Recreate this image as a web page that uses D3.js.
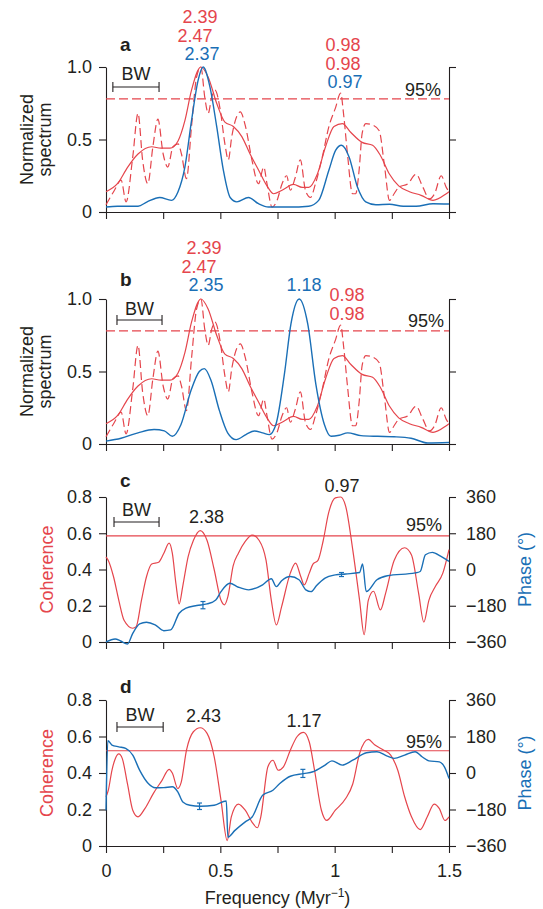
<!DOCTYPE html>
<html>
<head>
<meta charset="utf-8">
<script src="https://cdn.jsdelivr.net/npm/d3@7"></script>
<style>
  body { margin: 0; background: #fff; }
  svg { display: block; font-family: "Liberation Sans", Arial, sans-serif; }
</style>
</head>
<body>
<svg id="chart" width="543" height="909"></svg>
<script>
// frequency axis (Myr^-1)
const freqTicks = [0, 0.25, 0.5, 0.75, 1, 1.25, 1.5]
const freqTickLabels = ['0', '', '0.5', '', '1', '', '1.5']

const specTicks = [0, 0.5, 1]
const specTickLabels = ['0', '0.5', '1.0']
const cohTicks = [0, 0.2, 0.4, 0.6, 0.8]
const cohTickLabels = ['0', '0.2', '0.4', '0.6', '0.8']
const phaseTicks = [-360, -180, 0, 180, 360]
const phaseTickLabels = ['\u2212360', '\u2212180', '0', '180', '360']

// 95% significance levels, panels a..d
const sigLevels = [0.78, 0.78, 0.586, 0.522]

// normalized spectra [freq, value] (red curves are the same in a and b)
const specRedSmooth = [[0,0.14],[0.05,0.195],[0.095,0.31],[0.14,0.40],[0.2,0.45],[0.24,0.44],[0.28,0.44],[0.315,0.49],[0.345,0.63],[0.374,0.84],[0.415,1.0],[0.447,0.93],[0.484,0.75],[0.52,0.62],[0.557,0.59],[0.594,0.52],[0.63,0.40],[0.667,0.29],[0.704,0.18],[0.733,0.126],[0.77,0.15],[0.82,0.19],[0.858,0.17],[0.887,0.17],[0.924,0.26],[0.96,0.45],[0.997,0.59],[1.034,0.61],[1.07,0.55],[1.12,0.48],[1.166,0.46],[1.2,0.39],[1.24,0.26],[1.28,0.18],[1.327,0.14],[1.378,0.115],[1.43,0.08],[1.488,0.126],[1.5,0.14]]

const specRedDashed = [[0,0.05],[0.037,0.15],[0.066,0.22],[0.088,0.07],[0.117,0.38],[0.14,0.68],[0.16,0.36],[0.183,0.195],[0.205,0.45],[0.227,0.64],[0.25,0.40],[0.27,0.31],[0.293,0.45],[0.315,0.47],[0.33,0.40],[0.352,0.23],[0.374,0.59],[0.396,0.93],[0.415,1.0],[0.432,0.79],[0.447,0.68],[0.462,0.79],[0.477,0.84],[0.5,0.70],[0.52,0.47],[0.535,0.36],[0.55,0.52],[0.572,0.66],[0.587,0.69],[0.61,0.59],[0.638,0.36],[0.667,0.195],[0.69,0.31],[0.704,0.195],[0.726,0.034],[0.748,0.08],[0.77,0.195],[0.79,0.25],[0.806,0.15],[0.828,0.24],[0.85,0.36],[0.872,0.15],[0.894,0.10],[0.916,0.195],[0.946,0.38],[0.975,0.59],[1.004,0.72],[1.026,0.82],[1.04,0.66],[1.056,0.40],[1.078,0.126],[1.092,0.126],[1.107,0.29],[1.12,0.54],[1.136,0.61],[1.166,0.60],[1.195,0.56],[1.217,0.33],[1.24,0.08],[1.26,0.126],[1.28,0.17],[1.32,0.195],[1.356,0.26],[1.386,0.17],[1.415,0.09],[1.437,0.126],[1.466,0.25],[1.488,0.17],[1.5,0.14]]

const specBlueA = [[0,0.034],[0.05,0.04],[0.14,0.04],[0.18,0.07],[0.235,0.10],[0.286,0.08],[0.315,0.14],[0.345,0.31],[0.374,0.63],[0.403,0.91],[0.425,1.0],[0.455,0.86],[0.484,0.59],[0.513,0.29],[0.543,0.10],[0.572,0.07],[0.623,0.10],[0.667,0.057],[0.711,0.034],[0.8,0.034],[0.887,0.04],[0.93,0.08],[0.975,0.29],[1.004,0.425],[1.03,0.46],[1.063,0.38],[1.1,0.17],[1.136,0.07],[1.18,0.05],[1.24,0.053],[1.3,0.04],[1.356,0.04],[1.43,0.057],[1.5,0.055]]

const specBlueB = [[0,0.02],[0.066,0.04],[0.14,0.077],[0.21,0.10],[0.255,0.09],[0.29,0.053],[0.328,0.135],[0.372,0.37],[0.408,0.50],[0.43,0.52],[0.459,0.44],[0.496,0.23],[0.532,0.077],[0.569,0.03],[0.612,0.065],[0.649,0.09],[0.685,0.077],[0.714,0.065],[0.743,0.135],[0.78,0.48],[0.809,0.83],[0.845,1.0],[0.882,0.83],[0.918,0.41],[0.955,0.135],[0.984,0.053],[1.02,0.06],[1.057,0.077],[1.115,0.058],[1.188,0.053],[1.26,0.05],[1.334,0.04],[1.407,0.007],[1.5,0.01]]

// coherence and phase [freq, value]
const cohC = [[0,0.47],[0.01,0.45],[0.033,0.36],[0.056,0.23],[0.079,0.12],[0.117,0.076],[0.132,0.085],[0.155,0.23],[0.177,0.36],[0.2,0.43],[0.23,0.44],[0.253,0.49],[0.276,0.545],[0.29,0.49],[0.306,0.32],[0.32,0.21],[0.336,0.31],[0.359,0.47],[0.382,0.56],[0.412,0.615],[0.442,0.56],[0.473,0.40],[0.503,0.23],[0.518,0.205],[0.533,0.25],[0.556,0.42],[0.579,0.49],[0.609,0.555],[0.639,0.59],[0.67,0.56],[0.7,0.45],[0.723,0.23],[0.745,0.094],[0.768,0.195],[0.806,0.38],[0.829,0.435],[0.852,0.36],[0.867,0.315],[0.889,0.38],[0.905,0.43],[0.927,0.45],[0.95,0.56],[0.973,0.71],[1.003,0.795],[1.026,0.80],[1.048,0.75],[1.079,0.51],[1.109,0.23],[1.129,0.04],[1.147,0.23],[1.17,0.28],[1.2,0.177],[1.223,0.27],[1.26,0.45],[1.306,0.52],[1.336,0.48],[1.367,0.27],[1.39,0.11],[1.412,0.23],[1.442,0.31],[1.473,0.38],[1.5,0.51]]

const phaseC = [[0,-360],[0.04,-345],[0.064,-355],[0.094,-370],[0.117,-317],[0.147,-270],[0.177,-262],[0.215,-275],[0.253,-304],[0.283,-300],[0.32,-217],[0.35,-192],[0.397,-179],[0.442,-171],[0.48,-151],[0.503,-110],[0.541,-68],[0.579,-88],[0.624,-101],[0.685,-76],[0.723,-46],[0.745,-85],[0.768,-56],[0.806,-35],[0.844,-51],[0.874,-101],[0.897,-110],[0.92,-81],[0.958,-43],[1.003,-27],[1.048,-22],[1.109,-15],[1.122,28],[1.138,-110],[1.185,-51],[1.23,-31],[1.352,-17],[1.374,-10],[1.397,73],[1.427,85],[1.465,65],[1.5,40]]

const cohD = [[0,0.27],[0.01,0.305],[0.026,0.415],[0.041,0.48],[0.056,0.505],[0.071,0.48],[0.094,0.34],[0.117,0.196],[0.14,0.16],[0.17,0.205],[0.208,0.29],[0.245,0.36],[0.276,0.42],[0.29,0.40],[0.314,0.315],[0.329,0.35],[0.352,0.525],[0.382,0.626],[0.412,0.648],[0.442,0.617],[0.473,0.49],[0.503,0.25],[0.53,0.03],[0.548,0.16],[0.579,0.23],[0.609,0.196],[0.639,0.13],[0.662,0.10],[0.677,0.16],[0.708,0.434],[0.73,0.47],[0.753,0.415],[0.776,0.434],[0.806,0.525],[0.836,0.60],[0.864,0.623],[0.889,0.57],[0.912,0.415],[0.942,0.196],[0.965,0.14],[1.003,0.196],[1.048,0.26],[1.079,0.34],[1.109,0.507],[1.147,0.584],[1.176,0.553],[1.215,0.525],[1.245,0.498],[1.276,0.415],[1.306,0.27],[1.336,0.16],[1.374,0.09],[1.405,0.16],[1.435,0.23],[1.458,0.205],[1.482,0.14],[1.5,0.16]]

const phaseD = [[0,-184],[0.008,159],[0.026,138],[0.056,129],[0.086,121],[0.117,88],[0.147,14],[0.185,-52],[0.215,-73],[0.253,-72],[0.29,-68],[0.314,-93],[0.336,-143],[0.367,-159],[0.412,-164],[0.473,-159],[0.526,-138],[0.533,-316],[0.564,-283],[0.609,-241],[0.639,-217],[0.685,-110],[0.73,-85],[0.76,-52],[0.806,-16],[0.864,-3],[0.905,6],[0.958,39],[0.988,60],[1.033,39],[1.079,63],[1.139,100],[1.185,105],[1.23,83],[1.26,72],[1.306,88],[1.352,105],[1.382,80],[1.412,60],[1.458,55],[1.48,30],[1.5,-27]]

// phase error bars [freq, phase, half-width]
const phaseErrC = [[0.424, -177, 18], [1.03, -25, 10]]
const phaseErrD = [[0.409, -164, 16], [0.861, -2, 20]]

const RED = '#e5454c'
const BLUE = '#1a6fb6'
const INK = '#231f20'

const svg = d3.select('#chart')
const x = d3.scaleLinear().domain([0, 1.5]).range([106, 449])

const panels = [
  { key: 'a', top: 67, bottom: 212, kind: 'spec', blue: specBlueA, sig: sigLevels[0],
    letterY: 51, bw: [0.03, 0.232], bwY: 87, bwTextY: 80, sigTextY: 96, sigTextX: 441,
    labels: [['2.39', 0.411, 23, RED], ['2.47', 0.389, 42, RED], ['2.37', 0.42, 60, BLUE],
             ['0.98', 1.036, 51, RED], ['0.98', 1.036, 70, RED], ['0.97', 1.045, 88, BLUE]] },
  { key: 'b', top: 299, bottom: 444, kind: 'spec', blue: specBlueB, sig: sigLevels[1],
    letterY: 286, bw: [0.048, 0.245], bwY: 320, bwTextY: 315, sigTextY: 327, sigTextX: 444,
    labels: [['2.39', 0.429, 254, RED], ['2.47', 0.407, 273, RED], ['2.35', 0.437, 291, BLUE],
             ['1.18', 0.866, 291, BLUE], ['0.98', 1.054, 301, RED], ['0.98', 1.054, 320, RED]] },
  { key: 'c', top: 497, bottom: 642, kind: 'coh', coh: cohC, phase: phaseC, err: phaseErrC, sig: sigLevels[2],
    letterY: 487, bw: [0.035, 0.232], bwY: 522, bwTextY: 516, sigTextY: 531, sigTextX: 442,
    labels: [['2.38', 0.44, 523, INK], ['0.97', 1.032, 492, INK]] },
  { key: 'd', top: 700, bottom: 846, kind: 'coh', coh: cohD, phase: phaseD, err: phaseErrD, sig: sigLevels[3],
    letterY: 693, bw: [0.048, 0.25], bwY: 727, bwTextY: 721, sigTextY: 748, sigTextX: 442,
    labels: [['2.43', 0.426, 722, INK], ['1.17', 0.866, 727, INK]] }
]

function styleAxis(g) {
  g.attr('font-size', 18).attr('font-family', null).attr('color', INK)
  g.selectAll('path, line').attr('stroke-width', 1.1)
  g.selectAll('text').attr('fill', INK)
}

panels.forEach((p, i) => {
  const g = svg.append('g')
  const last = i === panels.length - 1

  let yL, yR
  if (p.kind === 'spec') {
    yL = d3.scaleLinear().domain([0, 1]).range([p.bottom, p.top])
    yR = yL
  } else {
    yL = d3.scaleLinear().domain([0, 0.8]).range([p.bottom, p.top])
    yR = d3.scaleLinear().domain([-360, 360]).range([p.bottom, p.top])
  }

  // axes
  const lt = p.kind === 'spec' ? specTicks : cohTicks
  const ll = p.kind === 'spec' ? specTickLabels : cohTickLabels
  g.append('g')
    .attr('transform', `translate(${x(0)},0)`)
    .call(d3.axisLeft(yL).tickValues(lt).tickFormat((d, k) => ll[k]).tickSize(7).tickSizeOuter(0).tickPadding(7))
    .call(styleAxis)

  if (p.kind === 'spec') {
    g.append('g')
      .attr('transform', `translate(${x(1.5)},0)`)
      .call(d3.axisRight(yR).tickValues(specTicks).tickFormat('').tickSize(7).tickSizeOuter(0))
      .call(styleAxis)
  } else {
    g.append('g')
      .attr('transform', `translate(${x(1.5)},0)`)
      .call(d3.axisRight(yR).tickValues(phaseTicks).tickFormat((d, k) => phaseTickLabels[k]).tickSize(7).tickSizeOuter(0).tickPadding(10))
      .call(styleAxis)
  }

  g.append('g')
    .attr('transform', `translate(0,${p.bottom})`)
    .call(d3.axisBottom(x).tickValues(freqTicks).tickFormat((d, k) => last ? freqTickLabels[k] : '').tickSize(7).tickSizeOuter(0).tickPadding(11))
    .call(styleAxis)

  // significance level
  g.append('line')
    .attr('x1', x(0)).attr('x2', x(1.5))
    .attr('y1', yL(p.sig)).attr('y2', yL(p.sig))
    .attr('stroke', RED).attr('stroke-width', 1.2)
    .attr('stroke-dasharray', p.kind === 'spec' ? '9,4' : null)

  const line = (ys) => d3.line().curve(d3.curveMonotoneX).x(d => x(d[0])).y(d => ys(d[1]))

  if (p.kind === 'spec') {
    g.append('path').datum(specRedDashed)
      .attr('fill', 'none').attr('stroke', RED).attr('stroke-width', 1.2)
      .attr('stroke-dasharray', '8,4').attr('d', line(yL))
    g.append('path').datum(specRedSmooth)
      .attr('fill', 'none').attr('stroke', RED).attr('stroke-width', 1.2).attr('d', line(yL))
    g.append('path').datum(p.blue)
      .attr('fill', 'none').attr('stroke', BLUE).attr('stroke-width', 1.4).attr('d', line(yL))
  } else {
    g.append('path').datum(p.coh)
      .attr('fill', 'none').attr('stroke', RED).attr('stroke-width', 1.2).attr('d', line(yL))
    g.append('path').datum(p.phase)
      .attr('fill', 'none').attr('stroke', BLUE).attr('stroke-width', 1.4).attr('d', line(yR))
    const eb = g.append('g').attr('stroke', BLUE).attr('stroke-width', 1.2)
    p.err.forEach(e => {
      eb.append('line').attr('x1', x(e[0])).attr('x2', x(e[0]))
        .attr('y1', yR(e[1] - e[2])).attr('y2', yR(e[1] + e[2]))
      ;[e[1] - e[2], e[1] + e[2]].forEach(v => {
        eb.append('line').attr('x1', x(e[0]) - 2.5).attr('x2', x(e[0]) + 2.5)
          .attr('y1', yR(v)).attr('y2', yR(v))
      })
    })
  }

  // bandwidth bracket
  const bw = g.append('g').attr('stroke', INK).attr('stroke-width', 1.1)
  bw.append('line').attr('x1', x(p.bw[0])).attr('x2', x(p.bw[1])).attr('y1', p.bwY).attr('y2', p.bwY)
  p.bw.forEach(f => {
    bw.append('line').attr('x1', x(f)).attr('x2', x(f)).attr('y1', p.bwY - 5).attr('y2', p.bwY + 5)
  })
  g.append('text').attr('x', (x(p.bw[0]) + x(p.bw[1])) / 2).attr('y', p.bwTextY)
    .attr('text-anchor', 'middle').attr('font-size', 18).attr('fill', INK).text('BW')

  g.append('text').attr('x', p.sigTextX).attr('y', p.sigTextY)
    .attr('text-anchor', 'end').attr('font-size', 18).attr('fill', INK).text('95%')

  // panel letter
  g.append('text').attr('x', 120).attr('y', p.letterY)
    .attr('font-size', 19).attr('font-weight', 'bold').attr('fill', INK).text(p.key)

  // peak period labels
  p.labels.forEach(l => {
    g.append('text').attr('x', x(l[1])).attr('y', l[2])
      .attr('text-anchor', 'middle').attr('font-size', 18).attr('fill', l[3]).text(l[0])
  })

  // y-axis titles
  const mid = (p.top + p.bottom) / 2
  if (p.kind === 'spec') {
    g.append('text').attr('transform', `translate(33,${mid}) rotate(-90)`)
      .attr('text-anchor', 'middle').attr('font-size', 18).attr('fill', INK).text('Normalized')
    g.append('text').attr('transform', `translate(51,${mid}) rotate(-90)`)
      .attr('text-anchor', 'middle').attr('font-size', 18).attr('fill', INK).text('spectrum')
  } else {
    g.append('text').attr('transform', `translate(53,${mid}) rotate(-90)`)
      .attr('text-anchor', 'middle').attr('font-size', 18).attr('fill', RED).text('Coherence')
    g.append('text').attr('transform', `translate(531,${mid}) rotate(-90)`)
      .attr('text-anchor', 'middle').attr('font-size', 18).attr('fill', BLUE).text('Phase (\u00b0)')
  }
})

// x-axis title
const xt = svg.append('text').attr('x', x(0.75)).attr('y', 904)
  .attr('text-anchor', 'middle').attr('font-size', 18).attr('fill', INK)
xt.append('tspan').text('Frequency (Myr')
xt.append('tspan').attr('font-size', 12).attr('dy', -7).text('\u22121')
xt.append('tspan').attr('dy', 7).text(')')
</script>
</body>
</html>
